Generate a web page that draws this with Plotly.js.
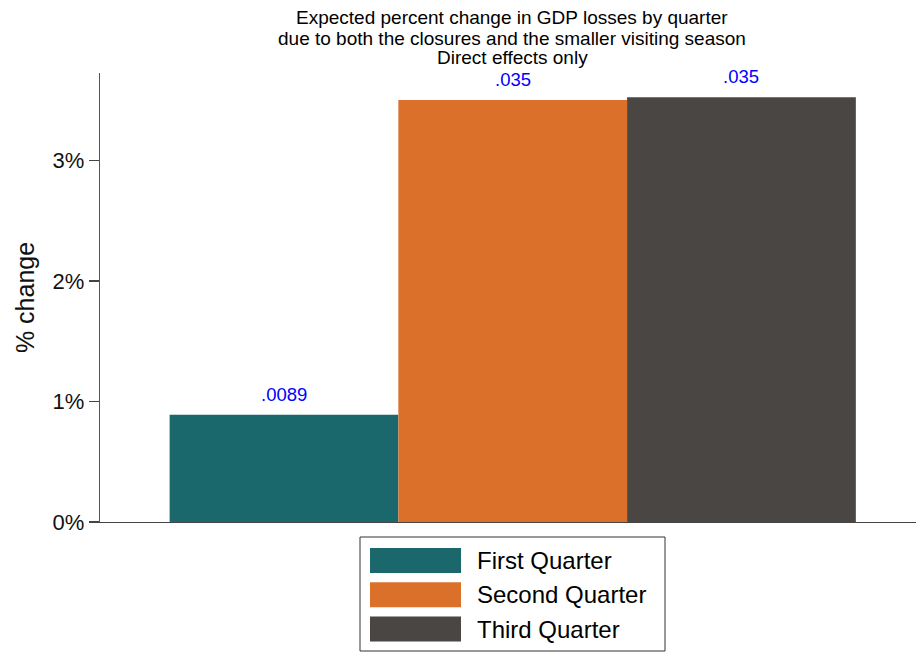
<!DOCTYPE html>
<html>
<head>
<meta charset="utf-8">
<script src="https://cdn.plot.ly/plotly-3.0.1.min.js"></script>
<style>html,body{margin:0;padding:0;background:#fff;}#chart{width:916px;height:652px;}</style>
</head>
<body>
<div id="chart"></div>
<script>
const categories = ["First Quarter", "Second Quarter", "Third Quarter"];
const values = [0.0089, 0.03503, 0.03526];
const colors = ["#1a686c", "#da702a", "#4a4644"];
const yTicks = [0, 0.01, 0.02, 0.03];
const yTickLabels = ["0%", "1%", "2%", "3%"];
const titleLines = [
  "Expected percent change in GDP losses by quarter",
  "due to both the closures and the smaller visiting season",
  "Direct effects only"
];

function stataFmt(v) {
  return v.toPrecision(2).replace(/^0\./, ".");
}

const FONT = "Liberation Sans, Arial, sans-serif";
const PLOT_L = 100, PLOT_R = 916, PLOT_T = 73, PLOT_B = 522;
const pxX = v => (v - PLOT_L) / (PLOT_R - PLOT_L);
const pxY = v => (PLOT_B - v) / (PLOT_B - PLOT_T);

const traces = categories.map((c, i) => ({
  type: "bar",
  x: [c],
  y: [values[i]],
  name: c,
  width: 1,
  marker: { color: colors[i], line: { width: 0 } },
  hoverinfo: "none",
  showlegend: false
}));

const annotations = categories.map((c, i) => ({
  x: c, y: values[i], xref: "x", yref: "y",
  text: stataFmt(values[i]),
  showarrow: false, yanchor: "bottom", yshift: 8,
  font: { family: FONT, size: 18.5, color: "#0000ff" }
}));

// title lines
titleLines.forEach((t, i) => {
  annotations.push({ xref: "paper", yref: "paper",
    x: pxX(512), y: pxY(18 + i * 20), xanchor: "center", yanchor: "middle",
    showarrow: false, text: t, font: { family: FONT, size: 19, color: "#000" } });
});

// custom legend (large swatches like the reference)
const shapes = [];
shapes.push({ type: "rect", xref: "paper", yref: "paper",
  x0: pxX(360), x1: pxX(665), y0: pxY(651), y1: pxY(537),
  line: { color: "#333", width: 1 }, fillcolor: "rgba(0,0,0,0)" });
categories.forEach((c, i) => {
  const top = 548 + i * 34.3, bot = top + 25;
  shapes.push({ type: "rect", xref: "paper", yref: "paper",
    x0: pxX(370), x1: pxX(461), y0: pxY(bot), y1: pxY(top),
    line: { width: 0 }, fillcolor: colors[i] });
  annotations.push({ xref: "paper", yref: "paper",
    x: pxX(475), y: pxY((top + bot) / 2), xanchor: "left", yanchor: "middle",
    showarrow: false, text: c, font: { family: FONT, size: 24, color: "#000" } });
});

const layout = {
  width: 916, height: 652,
  margin: { l: 100, r: 0, t: 73, b: 130 },
  paper_bgcolor: "#fff", plot_bgcolor: "#fff",
  barmode: "overlay",
  showlegend: false,
  font: { family: FONT, color: "#000" },
  xaxis: {
    type: "category", categoryarray: categories, categoryorder: "array",
    range: [-0.8044, 2.763],
    showticklabels: false, ticks: "", showgrid: false, zeroline: false,
    showline: true, linecolor: "#444", linewidth: 1.3, fixedrange: true
  },
  yaxis: {
    range: [0, 0.03727],
    tickvals: yTicks, ticktext: yTickLabels,
    ticks: "outside", ticklen: 10, tickcolor: "#444", tickwidth: 1.3,
    tickfont: { size: 22, color: "#111" },
    showgrid: false, zeroline: false,
    showline: true, linecolor: "#555", linewidth: 1.3,
    title: { text: "% change", font: { size: 25, color: "#111" }, standoff: 10 },
    fixedrange: true
  },
  annotations: annotations,
  shapes: shapes
};

Plotly.newPlot("chart", traces, layout, { displayModeBar: false, staticPlot: true });
</script>
</body>
</html>
